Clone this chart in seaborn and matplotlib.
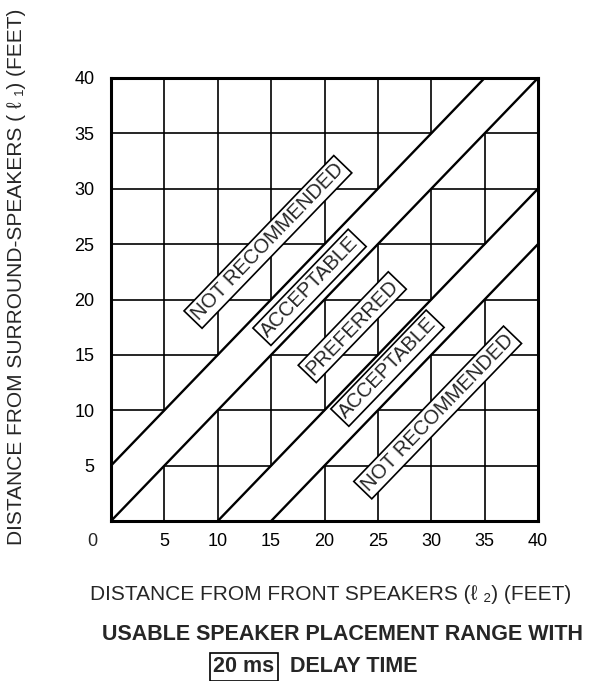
import numpy as np
import pandas as pd
import matplotlib
matplotlib.use("Agg")
import matplotlib.pyplot as plt
import seaborn as sns

# ---- data ----
front_ft = [0, 40]                      # x range (distance from front speakers)
boundary_offsets = [5, 0, -10, -15]     # boundary lines: l1 = l2 + offset
white_bands = [(0, 5), (-15, -10)]      # "acceptable" bands (no grid)
zone_names = ["NOT RECOMMENDED", "ACCEPTABLE", "PREFERRED", "ACCEPTABLE", "NOT RECOMMENDED"]
zone_x = [14.7, 18.6, 22.6, 25.9, 30.6]
zone_y = [25.2, 21.1, 17.5, 13.8, 9.8]
tick_vals = [5, 10, 15, 20, 25, 30, 35, 40]
tick_labels = ["5", "10", "15", "20", "25", "30", "35", "40"]

sns.set_style("white")
plt.rcParams["font.family"] = ["Liberation Sans", "DejaVu Sans"]

W, H = 595, 681
fig = plt.figure(figsize=(W / 100, H / 100), dpi=100)
ax = fig.add_axes([111 / W, 1 - 521 / H, 427 / W, 443 / H])

rows = []
for i, off in enumerate(boundary_offsets):
    for xv in front_ft:
        rows.append({"x": xv, "y": xv + off, "line": i})
df = pd.DataFrame(rows)

# white bands hide grid
xs = np.array(front_ft, dtype=float)
for lo, hi in white_bands:
    ax.fill_between(xs, xs + lo, xs + hi, color="white", zorder=1, lw=0)

sns.lineplot(data=df, x="x", y="y", units="line", estimator=None,
             color="black", lw=1.7, ax=ax, zorder=2, legend=False)

ax.set_xlim(0, 40)
ax.set_ylim(0, 40)
ax.set_xticks(tick_vals)
ax.set_xticklabels(tick_labels)
ax.set_yticks(tick_vals)
ax.set_yticklabels(tick_labels)
ax.tick_params(axis="x", length=0, labelsize=13, pad=9, colors="black")
ax.tick_params(axis="y", length=0, labelsize=13, pad=12, colors="black")
ax.set_axisbelow(True)
ax.grid(True, color="black", lw=1.2)
for s in ax.spines.values():
    s.set_visible(True)
    s.set_color("black")
    s.set_linewidth(2.2)
    s.set_zorder(4)
ax.set_xlabel("")
ax.set_ylabel("")

for name, zx, zy in zip(zone_names, zone_x, zone_y):
    ax.text(zx, zy, name, rotation=45, transform_rotates_text=True,
            rotation_mode="anchor", ha="center", va="center", fontsize=14.5,
            zorder=3,
            bbox=dict(boxstyle="square,pad=0.15", fc="white", ec="black", lw=1.2))

fig.text(92 / W, 1 - 541 / H, "0", ha="center", va="center", fontsize=13)

fig.text(17 / W, 1 - 277 / H, "DISTANCE FROM SURROUND-SPEAKERS ( \u2113 \u2081) (FEET)",
         rotation=90, ha="center", va="center", fontsize=15)
fig.text(331 / W, 1 - 595 / H, "DISTANCE FROM FRONT SPEAKERS (\u2113 \u2082) (FEET)",
         ha="center", va="center", fontsize=15)
fig.text(342 / W, 1 - 635 / H, "USABLE SPEAKER PLACEMENT RANGE WITH",
         ha="center", va="center", fontsize=15.5, fontweight="bold")
fig.text(244 / W, 1 - 667 / H, "20 ms", ha="center", va="center", fontsize=15.5,
         fontweight="bold",
         bbox=dict(boxstyle="square,pad=0.15", fc="white", ec="black", lw=1.2))
fig.text(290 / W, 1 - 667 / H, "DELAY TIME", ha="left", va="center",
         fontsize=15.5, fontweight="bold")

fig.savefig("out.png", dpi=100, facecolor="white")
